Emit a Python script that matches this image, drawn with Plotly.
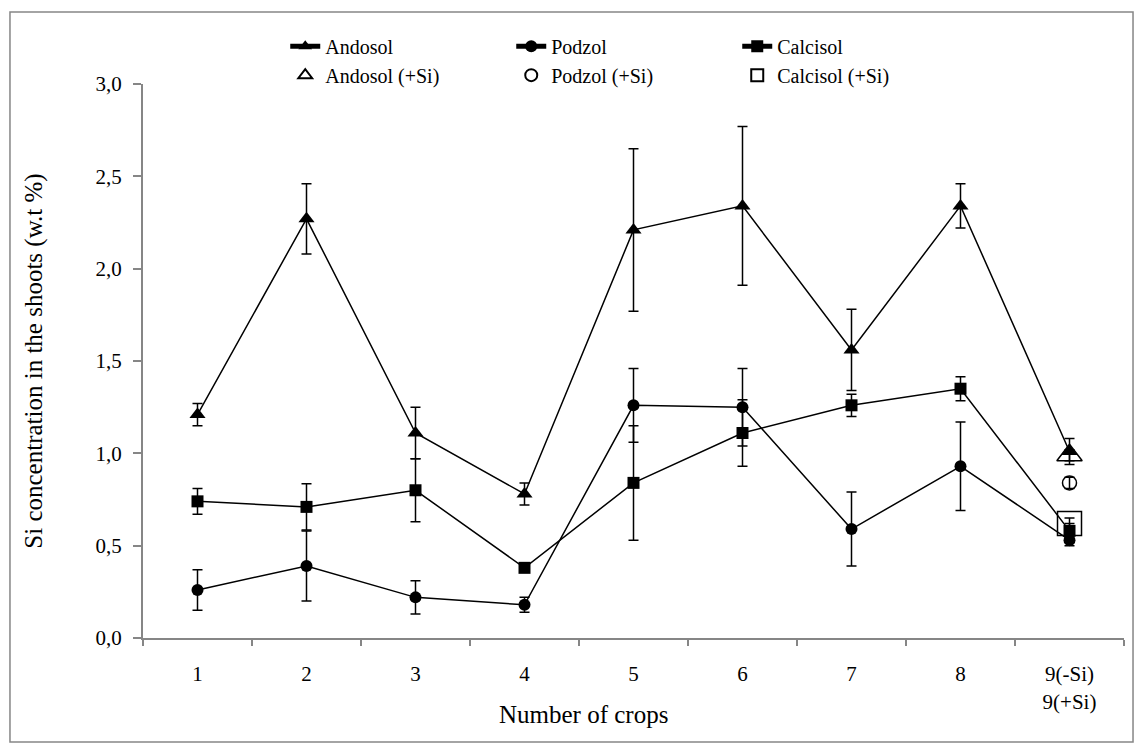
import plotly.graph_objects as go

# Crop number categories on the x axis
crops = ["1", "2", "3", "4", "5", "6", "7", "8", "9(-Si)<br>9(+Si)"]

# Si concentration in shoots (w.t %) with standard deviations
andosol = [1.21, 2.27, 1.11, 0.78, 2.21, 2.34, 1.56, 2.34, 1.01]
andosol_err = [0.06, 0.19, 0.14, 0.06, 0.44, 0.43, 0.22, 0.12, 0.07]
podzol = [0.26, 0.39, 0.22, 0.18, 1.26, 1.25, 0.59, 0.93, 0.53]
podzol_err = [0.11, 0.19, 0.09, 0.04, 0.20, 0.21, 0.20, 0.24, 0.03]
calcisol = [0.74, 0.71, 0.80, 0.38, 0.84, 1.11, 1.26, 1.35, 0.58]
calcisol_err = [0.07, 0.125, 0.17, 0.02, 0.31, 0.18, 0.06, 0.065, 0.04]

# Ninth crop with Si added
si_crop = [crops[-1]]
andosol_si = [0.99]
andosol_si_err = [0.03]
podzol_si = [0.84]
podzol_si_err = [0.03]
calcisol_si = [0.62]
calcisol_si_err = [0.03]

yticks = [0, 0.5, 1.0, 1.5, 2.0, 2.5, 3.0]

FONT = "Liberation Serif"
AXIS_GREY = "#868686"

fig = go.Figure()


def err(vals):
    return dict(type="data", array=vals, visible=True, color="black",
                thickness=1.5, width=5)


for name, ys, es, sym, size in [
    ("Andosol", andosol, andosol_err, "triangle-up", 14),
    ("Podzol", podzol, podzol_err, "circle", 12),
    ("Calcisol", calcisol, calcisol_err, "square", 12),
]:
    fig.add_trace(go.Scatter(
        x=crops, y=ys, name=name, mode="lines+markers",
        line=dict(color="black", width=1.5),
        marker=dict(symbol=sym, size=size, color="black"),
        error_y=err(es), legend="legend",
    ))

for name, ys, es, sym, size in [
    ("Andosol (+Si)", andosol_si, andosol_si_err, "triangle-up-open", 22),
    ("Podzol (+Si)", podzol_si, podzol_si_err, "circle-open", 14),
    ("Calcisol (+Si)", calcisol_si, calcisol_si_err, "square-open", 24),
]:
    fig.add_trace(go.Scatter(
        x=si_crop, y=ys, name=name, mode="markers",
        marker=dict(symbol=sym, size=size, color="black",
                    line=dict(color="black", width=1.5)),
        error_y=err(es), legend="legend2",
    ))

legend_common = dict(
    orientation="h", xanchor="left", yanchor="middle",
    font=dict(family=FONT, size=20, color="black"),
    bgcolor="rgba(0,0,0,0)", entrywidth=181, entrywidthmode="pixels",
    itemsizing="constant", tracegroupgap=0,
)

fig.update_layout(
    width=1139, height=746, autosize=False,
    margin=dict(l=143, r=15, t=84, b=108),
    paper_bgcolor="white", plot_bgcolor="white",
    separators=",.",
    font=dict(family=FONT, size=21, color="black"),
    showlegend=True,
    legend=dict(x=0.145, y=1.068, **legend_common),
    legend2=dict(x=0.145, y=1.016, **legend_common),
    xaxis=dict(
        type="category", categoryorder="array", categoryarray=crops,
        range=[-0.5, 8.5], showline=True, linecolor=AXIS_GREY, linewidth=2,
        ticks="outside", tickson="boundaries", ticklen=6, tickcolor=AXIS_GREY,
        tickwidth=1.5, showgrid=False, zeroline=False,
        tickfont=dict(family=FONT, size=21, color="black"),
        ticklabelstandoff=16,
    ),
    yaxis=dict(
        range=[0, 3], tickvals=yticks, tickformat=".1f",
        showline=True, linecolor=AXIS_GREY, linewidth=2,
        ticks="outside", ticklen=8, tickcolor=AXIS_GREY, tickwidth=1.5,
        showgrid=False, zeroline=False,
        tickfont=dict(family=FONT, size=21, color="black"),
        ticklabelstandoff=7,
        title=dict(text="Si concentration in the shoots (w.t %)",
                   font=dict(family=FONT, size=25, color="black"),
                   standoff=46),
    ),
    shapes=[dict(type="rect", xref="paper", yref="paper",
                 x0=-0.1356, x1=1.0092, y0=-0.1877, y1=1.130,
                 line=dict(color=AXIS_GREY, width=1.5), layer="below")],
    annotations=[dict(text="Number of crops", xref="paper", yref="paper",
                      x=(583 - 143) / 981, y=(638 - 714) / 554,
                      xanchor="center", yanchor="middle", showarrow=False,
                      font=dict(family=FONT, size=25, color="black"))],
)

fig.write_html("out.html")
